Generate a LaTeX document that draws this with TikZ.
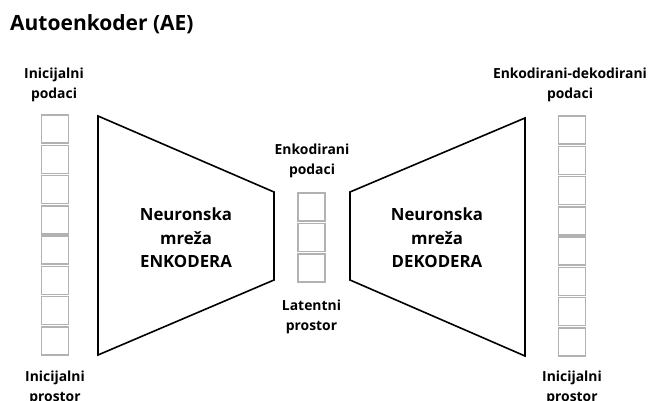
\documentclass[tikz,border=0pt]{standalone}
\usepackage{fontspec}
\setmainfont{Open Sans}
\begin{document}
\begin{tikzpicture}[x = 1pt, y = -1pt,
	cell/.style = { draw = black!30, line width = 1.6pt, minimum width = 27pt, minimum height = 28pt, inner sep = 0pt },
	mreza/.style = { draw, line width = 1.6pt, line join = miter },
	oznaka/.style = { align = center, inner sep = 0pt, font = \fontsize{13.9}{20}\selectfont\bfseries },
	tekst/.style = { align = center, inner sep = 0pt, font = \fontsize{16.8}{23.5}\selectfont\bfseries }]
	\clip (0, 0) rectangle (654, 401);
	\node [anchor = base west, inner sep = 0pt, font = \fontsize{21}{25}\selectfont\bfseries] (naslov) at (10, 31) { Autoenkoder (AE) };
	\foreach \i in {1, ..., 8} {
		\node [cell] (ulaz\i) at (55, 114 + 30.25 * \i - 15.125) {};
		\node [cell] (izlaz\i) at (572, 115 + 30.25 * \i - 15.125) {};
	}
	\foreach \i in {1, 2, 3} {
		\node [cell] (lat\i) at (311.5, 192 + 30.3 * \i - 15.15) {};
	}
	\draw [mreza] (98, 116) -- (274, 192) -- (274, 280) -- (98, 355) -- cycle;
	\draw [mreza] (350, 192) -- (525, 118) -- (525, 356) -- (350, 280) -- cycle;
	\node [tekst] (enkoder) at (186, 238) { Neuronska \\ mreža \\ ENKODERA };
	\node [tekst] (dekoder) at (437, 238) { Neuronska \\ mreža \\ DEKODERA };
	\node [oznaka] (ulazgore) at (54, 85) { Inicijalni \\ podaci };
	\node [oznaka] (ulazdolje) at (55, 388) { Inicijalni \\ prostor };
	\node [oznaka] (latgore) at (312, 161) { Enkodirani \\ podaci };
	\node [oznaka] (latdolje) at (311.5, 317) { Latentni \\ prostor };
	\node [oznaka] (izlazgore) at (570, 85) { Enkodirani-dekodirani \\ podaci };
	\node [oznaka] (izlazdolje) at (572, 388) { Inicijalni \\ prostor };
\end{tikzpicture}
\end{document}
